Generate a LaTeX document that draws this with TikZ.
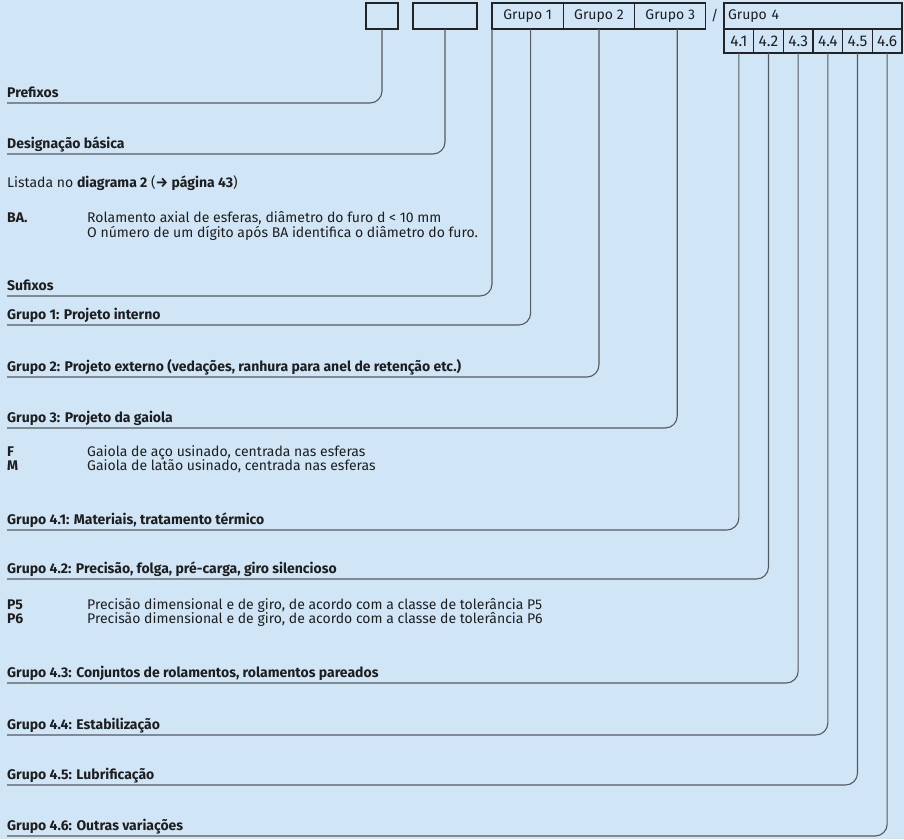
\documentclass[tikz,border=0pt]{standalone}
\usepackage{fontspec}
\setmainfont{Fira Sans}
\usetikzlibrary{positioning}
\definecolor{bgblue}{RGB}{208,230,246}
\definecolor{frameline}{RGB}{35,35,35}
\definecolor{leadline}{RGB}{85,90,96}
\definecolor{ink}{RGB}{30,30,30}
\newcommand{\diagfont}{\fontsize{14}{16}\selectfont}
\tikzset{
    cell/.style={rectangle, draw=frameline, line width=1.1pt, inner sep=0pt, outer sep=0pt, minimum height=26pt, text=ink, font=\diagfont},
    subcell/.style={rectangle, draw=frameline, line width=1.1pt, inner sep=0pt, outer sep=0pt, minimum width=29.67pt, minimum height=24pt, text=ink, font=\fontsize{15.5}{17}\selectfont},
    heading/.style={anchor=south west, inner xsep=0pt, inner ysep=1.5pt, text depth=3.5pt, font=\diagfont\bfseries, text=ink},
    bodytext/.style={anchor=base west, inner sep=0pt, text=ink, font=\diagfont},
    keytext/.style={anchor=base west, inner sep=0pt, text=ink, font=\diagfont\bfseries},
    lead/.style={draw=leadline, line width=1.1pt, rounded corners=12pt}
}

\begin{document}
\begin{tikzpicture}[x=1pt, y=-1pt]
    \fill[bgblue] (0,0) rectangle (904,839);
    \useasboundingbox (0,0) rectangle (904,839);

    % Header boxes
    \node (pre) [cell, minimum width=32pt, anchor=north west] at (366,3) {};
    \node (basic) [cell, minimum width=64pt, anchor=north west] at (413,3) {};
    \node (g1) [cell, minimum width=71.3pt, anchor=north west] at (492,3) {Grupo 1};
    \node (g2) [cell, minimum width=71.3pt, right=0pt of g1] {Grupo 2};
    \node (g3) [cell, minimum width=71.3pt, right=0pt of g2] {Grupo 3};
    \node (slash) [right=5pt of g3, inner sep=0pt, text=ink, font=\diagfont] {/};
    \node (g4) [cell, minimum width=178pt, text width=170pt, anchor=north west] at (724,3) {Grupo 4};
    \node (s41) [subcell, anchor=north west] at (g4.south west) {4.1};
    \node (s42) [subcell, right=0pt of s41] {4.2};
    \node (s43) [subcell, right=0pt of s42] {4.3};
    \node (s44) [subcell, right=0pt of s43] {4.4};
    \node (s45) [subcell, right=0pt of s44] {4.5};
    \node (s46) [subcell, right=0pt of s45] {4.6};

    % Prefixes and basic designation
    \node (pref) [heading] at (7,103) {Prefixos};
    \node (desig) [heading] at (7,154) {Designação básica};
    \node (listed) [bodytext] at (7,187) {Listada no \textbf{diagrama 2} (\textbf{→ página 43})};
    \node (ba) [keytext] at (7,222) {BA.};
    \node (ba1) [bodytext] at (87,222) {Rolamento axial de esferas, diâmetro do furo d < 10 mm};
    \node (ba2) [bodytext] at (87,237) {O número de um dígito após BA identifica o diâmetro do furo.};

    % Suffixes
    \node (suf) [heading] at (7,296) {Sufixos};
    \node (grp1) [heading] at (7,325) {Grupo 1: Projeto interno};
    \node (grp2) [heading] at (7,377) {Grupo 2: Projeto externo (vedações, ranhura para anel de retenção etc.)};
    \node (grp3) [heading] at (7,428) {Grupo 3: Projeto da gaiola};
    \node (f) [keytext] at (7,456) {F};
    \node (fdesc) [bodytext] at (87,456) {Gaiola de aço usinado, centrada nas esferas};
    \node (m) [keytext] at (7,470) {M};
    \node (mdesc) [bodytext] at (87,470) {Gaiola de latão usinado, centrada nas esferas};
    \node (grp41) [heading] at (7,530) {Grupo 4.1: Materiais, tratamento térmico};
    \node (grp42) [heading] at (7,579) {Grupo 4.2: Precisão, folga, pré-carga, giro silencioso};
    \node (p5) [keytext] at (7,609) {P5};
    \node (p5desc) [bodytext] at (87,609) {Precisão dimensional e de giro, de acordo com a classe de tolerância P5};
    \node (p6) [keytext] at (7,623) {P6};
    \node (p6desc) [bodytext] at (87,623) {Precisão dimensional e de giro, de acordo com a classe de tolerância P6};
    \node (grp43) [heading] at (7,683) {Grupo 4.3: Conjuntos de rolamentos, rolamentos pareados};
    \node (grp44) [heading] at (7,735) {Grupo 4.4: Estabilização};
    \node (grp45) [heading] at (7,785) {Grupo 4.5: Lubrificação};
    \node (grp46) [heading] at (7,836) {Grupo 4.6: Outras variações};

    % Leader lines
    \draw[lead] (pre.south) |- (pref.south west);
    \draw[lead] (basic.south) |- (desig.south west);
    \draw[lead] (g1.south west) |- (suf.south west);
    \draw[lead] ([xshift=3pt]g1.south) |- (grp1.south west);
    \draw[lead] (g2.south) |- (grp2.south west);
    \draw[lead] ([xshift=7pt]g3.south) |- (grp3.south west);
    \draw[lead] (s41.south) |- (grp41.south west);
    \draw[lead] (s42.south) |- (grp42.south west);
    \draw[lead] (s43.south) |- (grp43.south west);
    \draw[lead] (s44.south) |- (grp44.south west);
    \draw[lead] (s45.south) |- (grp45.south west);
    \draw[lead] (s46.south) |- (grp46.south west);
\end{tikzpicture}
\end{document}
